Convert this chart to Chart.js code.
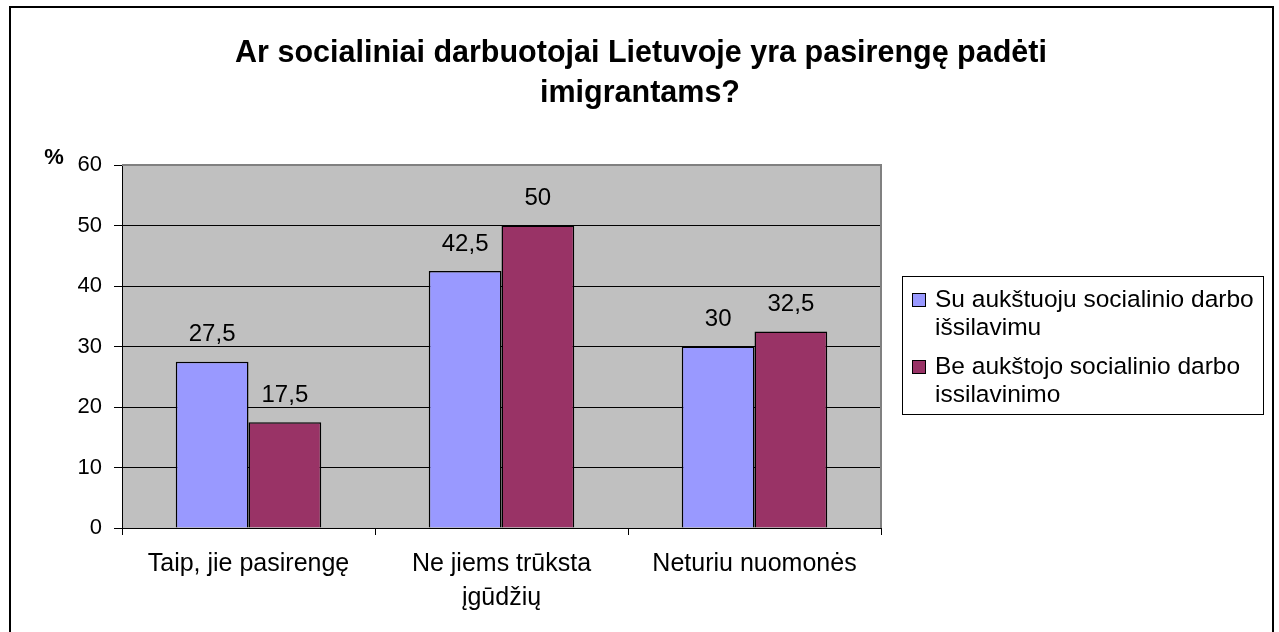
<!DOCTYPE html>
<html>
<head>
<meta charset="utf-8">
<script src="https://cdn.jsdelivr.net/npm/chart.js@4/dist/chart.umd.min.js"></script>
<style>
html,body{margin:0;padding:0;background:#fff;}
canvas{display:block;}
</style>
</head>
<body>
<canvas id="c" width="1279" height="632"></canvas>
<script>
const titleLines = ["Ar socialiniai darbuotojai Lietuvoje yra pasirengę padėti", "imigrantams?"];
const categories = ["Taip, jie pasirengę", ["Ne jiems trūksta", "įgūdžių"], "Neturiu nuomonės"];
const seriesNames = [["Su aukštuoju socialinio darbo", "išsilavimu"], ["Be aukštojo socialinio darbo", "issilavinimo"]];
const seriesA = [27.5, 42.5, 30];
const seriesB = [17.5, 50, 32.5];
const yTicks = [0, 10, 20, 30, 40, 50, 60];
const yUnit = "%";
const colors = ["#9999FF", "#993366"];

const FONT = "'Liberation Sans', Arial, sans-serif";

const decor = {
  id: 'decor',
  beforeDraw(chart) {
    const ctx = chart.ctx, a = chart.chartArea;
    ctx.save();
    ctx.fillStyle = '#fff';
    ctx.fillRect(0, 0, chart.width, chart.height);
    ctx.fillStyle = '#C0C0C0';
    ctx.fillRect(a.left, a.top, a.right - a.left, a.bottom - a.top);
    ctx.restore();
  },
  beforeDatasetsDraw(chart) {
    const ctx = chart.ctx, a = chart.chartArea;
    ctx.save();
    ctx.strokeStyle = '#808080';
    ctx.lineWidth = 2;
    ctx.beginPath();
    ctx.moveTo(a.left, a.top);
    ctx.lineTo(a.right, a.top);
    ctx.lineTo(a.right, a.bottom);
    ctx.stroke();
    ctx.restore();
  },
  afterDatasetsDraw(chart) {
    const ctx = chart.ctx;
    ctx.save();
    ctx.font = "24px " + FONT;
    ctx.fillStyle = '#000';
    ctx.textAlign = 'center';
    ctx.textBaseline = 'middle';
    chart.data.datasets.forEach((ds, di) => {
      const meta = chart.getDatasetMeta(di);
      meta.data.forEach((el, i) => {
        ctx.fillText(String(ds.data[i]).replace('.', ','), el.x, el.y - 27);
      });
    });
    ctx.restore();
  },
  afterDraw(chart) {
    const ctx = chart.ctx;
    ctx.save();
    // outer border
    ctx.strokeStyle = '#000';
    ctx.lineWidth = 2;
    ctx.strokeRect(10, 7, 1263, 640);
    // title
    ctx.fillStyle = '#000';
    ctx.textAlign = 'center';
    ctx.textBaseline = 'middle';
    ctx.font = "bold 30.5px " + FONT;
    ctx.fillText(titleLines[0], 641, 54);
    ctx.fillText(titleLines[1], 640, 94);
    // unit label
    ctx.font = "bold 22px " + FONT;
    ctx.fillText(yUnit, 54, 158);
    // legend
    ctx.lineWidth = 1;
    ctx.strokeStyle = '#000';
    ctx.strokeRect(902.5, 276.5, 361, 138);
    ctx.font = "24.5px " + FONT;
    ctx.textAlign = 'left';
    const itemTops = [300, 367];
    seriesNames.forEach((lines, i) => {
      const y = itemTops[i];
      ctx.fillStyle = colors[i];
      ctx.fillRect(912, y - 7, 14, 14);
      ctx.strokeRect(912.5, y - 6.5, 13, 13);
      ctx.fillStyle = '#000';
      lines.forEach((t, k) => ctx.fillText(t, 935, y + k * 28));
    });
    ctx.restore();
  }
};

new Chart(document.getElementById('c'), {
  type: 'bar',
  data: {
    labels: categories,
    datasets: [
      { label: seriesNames[0].join(' '), data: seriesA, backgroundColor: colors[0], borderColor: '#000', borderWidth: 1.5 },
      { label: seriesNames[1].join(' '), data: seriesB, backgroundColor: colors[1], borderColor: '#000', borderWidth: 1.5 }
    ]
  },
  options: {
    responsive: false,
    animation: false,
    devicePixelRatio: 1,
    layout: { padding: { top: 165, right: 398, bottom: 0, left: 0 } },
    plugins: { legend: { display: false }, title: { display: false }, tooltip: { enabled: false } },
    datasets: { bar: { categoryPercentage: 0.575, barPercentage: 1.0 } },
    scales: {
      y: {
        min: 0, max: 60,
        afterBuildTicks(s) { s.ticks = yTicks.map(v => ({ value: v })); },
        ticks: { font: { size: 22, family: FONT }, color: '#000', padding: 12 },
        grid: {
          color: c => (c.tick && c.tick.value === 60) ? 'rgba(0,0,0,0)' : '#000',
          tickColor: '#000', tickLength: 8, lineWidth: 1
        },
        border: { color: '#000', width: 1 },
        afterFit(s) { s.width = 122; }
      },
      x: {
        ticks: { font: { size: 25, family: FONT, lineHeight: 1.35 }, color: '#000', padding: 12, maxRotation: 0, autoSkip: false },
        grid: { offset: true, drawOnChartArea: false, tickColor: '#000', tickLength: 7 },
        border: { color: '#000', width: 1 },
        afterFit(s) { s.height = 104; }
      }
    }
  },
  plugins: [decor]
});
</script>
</body>
</html>
